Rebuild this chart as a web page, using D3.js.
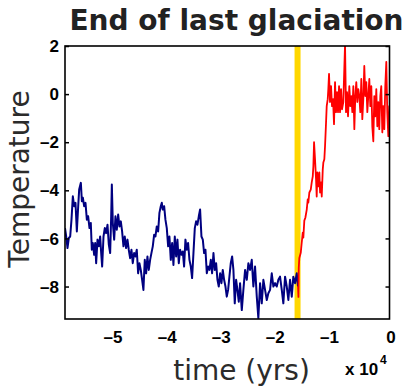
<!DOCTYPE html>
<html>
<head>
<meta charset="utf-8">
<script src="https://cdn.jsdelivr.net/npm/d3@7"></script>
<style>
    body { margin: 0; background: #fff; }
    svg { display: block; }
</style>
</head>
<body>
<div id="chart"></div>
<script>
// Temperature record, glacial part (blue) and deglaciation (red)
const glacialRecord = [
    [-60000,-5.57],[-59780,-5.92],[-59540,-6.40],[-59290,-5.98],[-59040,-5.92],[-58800,-5.22],[-58550,-4.25],[-58300,-4.66],
    [-58060,-4.52],[-57810,-5.71],[-57560,-4.66],[-57380,-3.97],[-57070,-3.69],[-56880,-4.45],[-56700,-4.31],[-56460,-4.66],
    [-56210,-4.52],[-55960,-5.22],[-55720,-5.08],[-55470,-5.57],[-55230,-5.36],[-55040,-6.47],[-54860,-6.19],[-54610,-6.68],
    [-54420,-6.19],[-54240,-7.03],[-53990,-6.05],[-53750,-6.33],[-53500,-5.92],[-53310,-6.61],[-53130,-7.17],[-52880,-5.92],
    [-52640,-5.57],[-52390,-5.78],[-52140,-5.43],[-51900,-6.26],[-51650,-6.61],[-51460,-5.08],[-51340,-3.76],[-51160,-5.36],
    [-50910,-6.05],[-50670,-5.08],[-50420,-5.64],[-50170,-5.01],[-49930,-5.50],[-49680,-5.29],[-49440,-5.71],[-49190,-6.33],
    [-48950,-5.92],[-48700,-6.40],[-48450,-6.05],[-48210,-6.47],[-47960,-6.82],[-47710,-6.47],[-47470,-7.03],[-47220,-6.61],
    [-46980,-6.75],[-46730,-6.47],[-46480,-7.45],[-46240,-7.03],[-45990,-7.31],[-45740,-7.72],[-45500,-8.14],[-45250,-6.89],
    [-45000,-7.45],[-44760,-6.75],[-44510,-7.31],[-44260,-6.89],[-44020,-6.61],[-43770,-6.33],[-43520,-5.85],[-43280,-5.92],
    [-43030,-5.50],[-42780,-5.71],[-42540,-4.94],[-42290,-4.66],[-42100,-4.52],[-41920,-4.80],[-41670,-4.66],[-41430,-5.22],
    [-41180,-5.57],[-40930,-6.33],[-40690,-5.92],[-40440,-6.89],[-40190,-6.19],[-39950,-7.10],[-39700,-5.92],[-39450,-6.75],
    [-39210,-6.05],[-38960,-7.03],[-38720,-6.47],[-38470,-6.68],[-38220,-6.54],[-37980,-7.17],[-37730,-6.05],[-37480,-6.47],
    [-37240,-6.19],[-36990,-6.89],[-36740,-7.17],[-36500,-7.65],[-36250,-6.61],[-36000,-5.57],[-35760,-5.29],[-35510,-5.43],
    [-35260,-5.08],[-35020,-4.80],[-34770,-5.92],[-34520,-6.05],[-34280,-6.61],[-34030,-6.47],[-33780,-7.45],[-33540,-7.17],
    [-33290,-7.31],[-33040,-6.89],[-32800,-7.45],[-32550,-6.61],[-32310,-7.31],[-32060,-7.03],[-31810,-7.72],[-31570,-8.00],
    [-31320,-7.45],[-31070,-7.86],[-30830,-7.31],[-30580,-7.72],[-30330,-8.00],[-30090,-8.42],[-29840,-8.14],[-29600,-7.59],
    [-29350,-7.03],[-29100,-6.75],[-28860,-7.31],[-28610,-8.70],[-28360,-7.72],[-28120,-8.14],[-27870,-8.63],[-27630,-7.86],
    [-27310,-8.98],[-27020,-8.14],[-26700,-7.31],[-26390,-7.72],[-26090,-7.03],[-25780,-7.31],[-25470,-6.89],[-25170,-8.00],
    [-24860,-7.17],[-24540,-8.42],[-24250,-9.32],[-23930,-7.86],[-23620,-8.70],[-23320,-7.72],[-23010,-8.14],[-22690,-8.56],
    [-22400,-8.28],[-22080,-8.14],[-21770,-7.45],[-21470,-8.00],[-21160,-7.86],[-20850,-8.00],[-20550,-7.72],[-20240,-7.59],
    [-19920,-8.14],[-19630,-8.70],[-19310,-7.59],[-19000,-8.00],[-18700,-8.56],[-18390,-7.72],[-18070,-8.42],[-17780,-7.59],
    [-17460,-7.86],[-17150,-7.45],[-16910,-8.00]
];

const deglaciationRecord = [
    [-16910,-8.00],[-16840,-8.43],[-16780,-7.22],[-16670,-6.81],[-16410,-6.60],[-16230,-6.18],[-16040,-5.76],[-15930,-5.97],
    [-15750,-5.26],[-15560,-5.14],[-15300,-4.80],[-15120,-4.38],[-15010,-4.51],[-14820,-4.09],[-14560,-3.97],[-14380,-3.67],
    [-14190,-3.42],[-14080,-3.01],[-13950,-2.00],[-13770,-2.71],[-13580,-3.55],[-13460,-4.26],[-13340,-3.26],[-13160,-3.84],
    [-12970,-3.26],[-12840,-4.09],[-12660,-3.67],[-12530,-4.26],[-12340,-3.13],[-12230,-2.84],[-12050,-2.71],[-11920,-2.17],
    [-11730,-1.17],[-11610,-0.50],[-11420,-0.21],[-11310,0.21],[-11180,0.84],[-11000,-0.33],[-10810,0.33],[-10630,-0.50],
    [-10440,-0.21],[-10260,-1.25],[-10070,0.50],[-9890,-0.75],[-9700,0.08],[-9520,-0.75],[-9330,0.33],[-9150,-0.75],
    [-8960,0.21],[-8780,-0.63],[-8540,-0.33],[-8220,2.09],[-8040,-0.75],[-7850,0.08],[-7670,-0.92],[-7430,0.33],
    [-7240,-0.50],[-7060,-0.08],[-6870,-0.75],[-6690,0.33],[-6500,-1.46],[-6320,-0.08],[-6140,0.50],[-5950,-0.33],
    [-5770,0.21],[-5580,-0.08],[-5400,-0.75],[-5210,0.63],[-5030,-1.04],[-4840,-0.21],[-4660,1.17],[-4470,-0.08],
    [-4290,0.50],[-4100,-0.75],[-3920,-0.08],[-3730,0.63],[-3550,-0.50],[-3360,0.33],[-3180,-1.34],[-2990,-1.96],
    [-2810,-0.08],[-2620,-0.92],[-2440,0.21],[-2250,-1.34],[-2070,-0.33],[-1890,-1.46],[-1700,-0.08],[-1520,0.33],
    [-1330,-1.59],[-1150,-0.50],[-960,-1.46],[-780,0.33],[-590,1.34],[-410,-0.75],[-220,-1.75],[-40,-0.50],[0,-1.20]
];

const glaciationEnd = -17000;
const xTicks = [-50000, -40000, -30000, -20000, -10000, 0];
const yTicks = [2, 0, -2, -4, -6, -8];

const width = 412;
const height = 388;
const plot = { left: 65, right: 389.5, top: 46, bottom: 319 };

const svg = d3.select("#chart")
    .append("svg")
    .attr("width", width)
    .attr("height", height);

const x = d3.scaleLinear().domain([-60000, 0]).range([plot.left, plot.right]);
const y = d3.scaleLinear().domain([-9.35, 2]).range([plot.bottom, plot.top]);

svg.append("clipPath")
    .attr("id", "plot-clip")
    .append("rect")
    .attr("x", plot.left)
    .attr("y", plot.top)
    .attr("width", plot.right - plot.left)
    .attr("height", plot.bottom - plot.top);

const g = svg.append("g").attr("clip-path", "url(#plot-clip)");

// yellow marker for the end of the glaciation
g.append("line")
    .attr("x1", x(glaciationEnd))
    .attr("x2", x(glaciationEnd))
    .attr("y1", plot.top)
    .attr("y2", plot.bottom)
    .attr("stroke", "#ffd700")
    .attr("stroke-width", 6);

const line = d3.line()
    .x(d => x(d[0]))
    .y(d => y(d[1]));

g.append("path")
    .datum(glacialRecord)
    .attr("d", line)
    .attr("fill", "none")
    .attr("stroke", "#000080")
    .attr("stroke-width", 2)
    .attr("stroke-linejoin", "round");

g.append("path")
    .datum(deglaciationRecord)
    .attr("d", line)
    .attr("fill", "none")
    .attr("stroke", "#ff0000")
    .attr("stroke-width", 1.8)
    .attr("stroke-linejoin", "round");

// frame
svg.append("rect")
    .attr("x", plot.left)
    .attr("y", plot.top)
    .attr("width", plot.right - plot.left)
    .attr("height", plot.bottom - plot.top)
    .attr("fill", "none")
    .attr("stroke", "#000")
    .attr("stroke-width", 1.6);

const fmt = d => d < 0 ? "\u2013" + Math.abs(d) : String(d);

// y ticks, inside on both sides
const yAxisLeft = svg.append("g")
    .attr("transform", `translate(${plot.left},0)`)
    .call(d3.axisRight(y).tickValues(yTicks).tickSize(4).tickFormat(""));
const yAxisRight = svg.append("g")
    .attr("transform", `translate(${plot.right},0)`)
    .call(d3.axisLeft(y).tickValues(yTicks).tickSize(4).tickFormat(""));
[yAxisLeft, yAxisRight].forEach(a => {
    a.select(".domain").remove();
    a.selectAll(".tick line").attr("stroke", "#000").attr("stroke-width", 1.5);
});

svg.append("g")
    .selectAll("text")
    .data(yTicks)
    .join("text")
    .attr("x", plot.left - 6)
    .attr("y", d => y(d))
    .attr("dy", "0.36em")
    .attr("text-anchor", "end")
    .attr("font-family", "Liberation Sans, Arial, sans-serif")
    .attr("font-weight", "bold")
    .attr("font-size", 17)
    .attr("fill", "#000")
    .text(fmt);

svg.append("g")
    .selectAll("text")
    .data(xTicks)
    .join("text")
    .attr("x", d => x(d) + (d < 0 ? -6 : 1.5))
    .attr("y", 343)
    .attr("text-anchor", "middle")
    .attr("font-family", "Liberation Sans, Arial, sans-serif")
    .attr("font-weight", "bold")
    .attr("font-size", 17)
    .attr("fill", "#000")
    .text(d => d === 0 ? "0" : fmt(d / 10000));

// exponent note
const expoFont = "Liberation Sans, Arial, sans-serif";
svg.append("text")
    .attr("x", 345)
    .attr("y", 375)
    .attr("font-family", expoFont)
    .attr("font-weight", "bold")
    .attr("font-size", 17)
    .attr("fill", "#000")
    .text("x 10");
svg.append("text")
    .attr("x", 380)
    .attr("y", 364)
    .attr("font-family", expoFont)
    .attr("font-weight", "bold")
    .attr("font-size", 12)
    .attr("fill", "#000")
    .text("4");

// titles
svg.append("text")
    .attr("x", 236.5)
    .attr("y", 30)
    .attr("text-anchor", "middle")
    .attr("font-family", "DejaVu Sans, sans-serif")
    .attr("font-weight", "bold")
    .attr("font-size", 28)
    .attr("fill", "#222")
    .text("End of last glaciation");

svg.append("text")
    .attr("x", 241.5)
    .attr("y", 380)
    .attr("text-anchor", "middle")
    .attr("font-family", "DejaVu Sans, sans-serif")
    .attr("font-size", 28)
    .attr("fill", "#2b2b2b")
    .text("time (yrs)");

svg.append("text")
    .attr("transform", "translate(29,179) rotate(-90)")
    .attr("text-anchor", "middle")
    .attr("font-family", "DejaVu Sans, sans-serif")
    .attr("font-size", 28)
    .attr("fill", "#2b2b2b")
    .text("Temperature");
</script>
</body>
</html>
